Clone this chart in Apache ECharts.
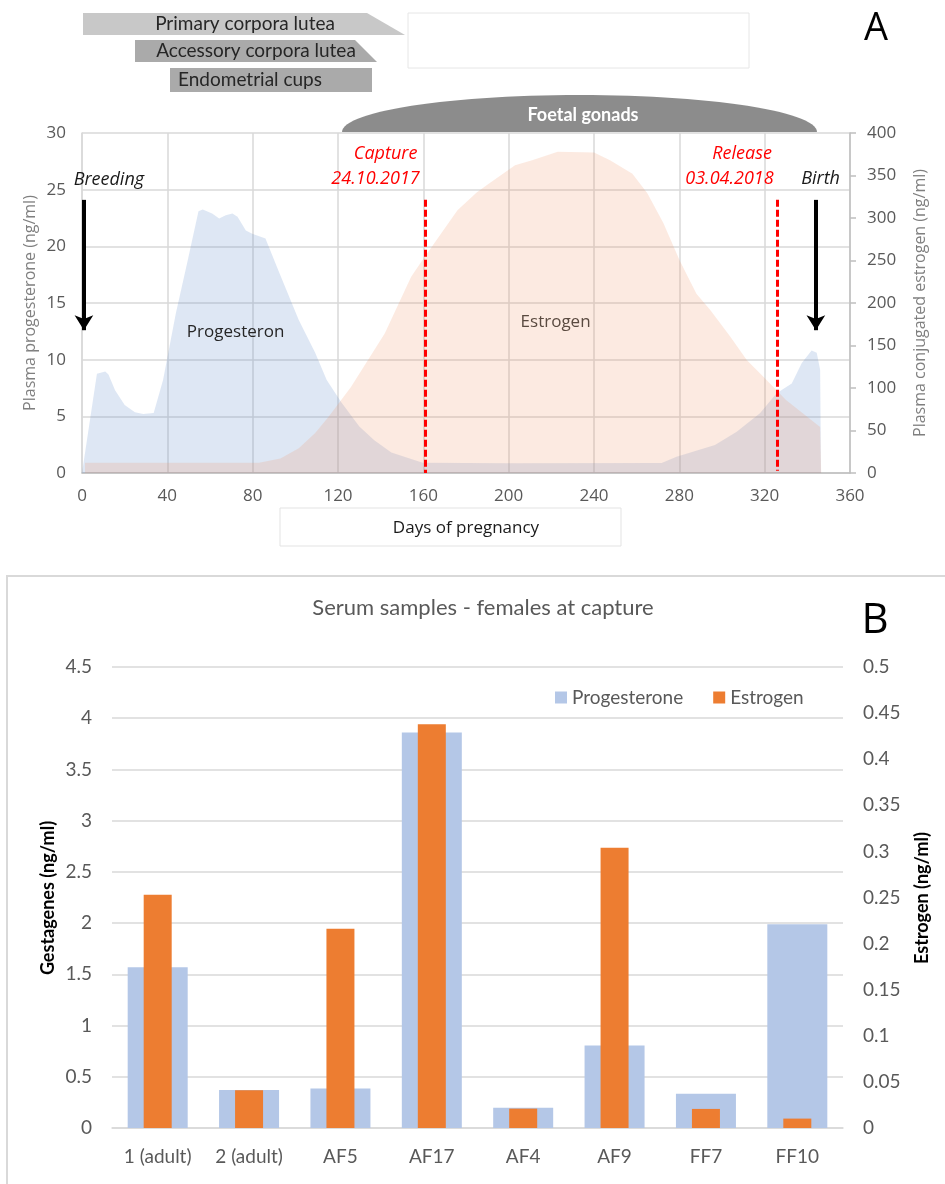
<!DOCTYPE html>
<html>
<head>
<meta charset="utf-8">
<script src="https://cdn.jsdelivr.net/npm/echarts@6/dist/echarts.min.js"></script>
<style>
html,body{margin:0;padding:0;background:#fff;}
#chart{width:945px;height:1184px;}
</style>
</head>
<body>
<div id="chart"></div>
<script>
// ---------- Panel A data ----------
const progDays = [0,7,10.9,12.4,15.5,20,24.8,28.7,33.6,38,44,49.6,54.6,56.6,61,64.3,67.4,70.5,72.9,76.8,79.8,86,92,101.6,109.3,114.7,121.7,130,137,145,159.7,200,271.7,278.7,296.7,306.9,317.8,325.6,332.7,337.4,342,344.4,346,346.4];
const progValues = [0,8.75,8.95,8.7,7.3,6.0,5.35,5.2,5.3,8.2,14.1,18.8,23.1,23.25,22.9,22.45,22.75,22.9,22.6,21.4,21.1,20.7,17.9,13.5,10.6,8.2,6.2,4.1,2.9,1.8,0.9,0.85,0.88,1.44,2.47,3.65,5.27,7.03,7.9,9.7,10.8,10.6,9.1,0];
const estDays = [1.4,83,93,101.6,109.3,115.5,126,141.9,154.3,159.7,176,185,190,203,211,223,240,247.5,258,265,272.5,280,288,294.4,304,311.6,321,330,338,346,346.5];
const estValues = [12,12,17,29,47,66,101,164,231,251,309,330,339,362,368,378,377,368,352,329,294,251,211,192,160,133,109,86,70,54,0];
const captureDay = 160.8, releaseDay = 326.1;
const breedingDay = 0.9, birthDay = 344;
const dayTicks = {min:0, max:360, interval:40};
const progTicks = {min:0, max:30, interval:5};
const estTicks = {min:0, max:400, interval:50};

// ---------- Panel B data ----------
const samples = ['1 (adult)','2 (adult)','AF5','AF17','AF4','AF9','FF7','FF10'];
const progB = [1.57,0.37,0.385,3.86,0.197,0.806,0.335,1.99];
const estB = [0.253,0.041,0.216,0.438,0.021,0.304,0.0207,0.0102];
const gestTicks = {min:0, max:4.5, interval:0.5};
const estBTicks = {min:0, max:0.5, interval:0.05};

const FA = "'Open Sans', sans-serif";
const FB = "Lato, sans-serif";

const chart = echarts.init(document.getElementById('chart'), null, {renderer:'canvas'});

const pairs = (xs, ys) => xs.map((x,i)=>[x, ys[i]]);

function txtPoint(x, y, text, style){
  return {coord:[x,y], value:0, label:Object.assign({show:true, formatter:text, position:'inside'}, style)};
}

// dome outline (decoration)
const domePts = [];
for (let i = 0; i <= 60; i++) {
  const t = Math.PI * i / 60;
  domePts.push([579.5 - 237.5 * Math.cos(t), 132 - 37 * Math.sin(t)]);
}

const redStyle = {color:'#ff0000', fontStyle:'italic', fontSize:18, fontFamily:FA};
const blackItalic = {color:'#1a1a1a', fontStyle:'italic', fontSize:18, fontFamily:FA};

const option = {
  animation:false,
  backgroundColor:'#fff',
  grid:[
    {left:82, top:133, width:768, height:340},
    {left:112, top:667, width:731, height:461}
  ],
  legend:{
    data:['Progesterone','Estrogen'],
    left:550, top:683,
    icon:'rect', itemWidth:12, itemHeight:12, itemGap:30,
    textStyle:{fontFamily:FB, fontSize:19, color:'#595959'}
  },
  xAxis:[
    {gridIndex:0, type:'value', min:dayTicks.min, max:dayTicks.max, interval:dayTicks.interval,
     axisLine:{show:true, lineStyle:{color:'#bfbfbf', width:1.5}}, axisTick:{show:false},
     axisLabel:{color:'#595959', fontSize:17, fontFamily:FA, margin:15},
     splitLine:{show:true, lineStyle:{color:'#d9d9d9', width:1.5}}},
    {gridIndex:1, type:'category', data:samples,
     axisLine:{show:true, lineStyle:{color:'#d9d9d9', width:1.5}}, axisTick:{show:false},
     axisLabel:{color:'#595959', fontSize:19, fontFamily:FB, margin:19, interval:0, hideOverlap:false}},
    {gridIndex:1, type:'category', data:samples, show:false}
  ],
  yAxis:[
    {gridIndex:0, type:'value', min:progTicks.min, max:progTicks.max, interval:progTicks.interval,
     name:'Plasma progesterone (ng/ml)', nameLocation:'middle', nameGap:44, nameRotate:90, nameMoveOverlap:false,
     nameTextStyle:{color:'#7f7f7f', fontSize:16, fontFamily:FA},
     axisLine:{show:true, lineStyle:{color:'#d9d9d9', width:1.5}}, axisTick:{show:false},
     axisLabel:{color:'#595959', fontSize:17, fontFamily:FA, margin:16},
     splitLine:{show:true, lineStyle:{color:'#d9d9d9', width:1.5}}},
    {gridIndex:0, type:'value', position:'right', min:estTicks.min, max:estTicks.max, interval:estTicks.interval,
     name:'Plasma conjugated estrogen (ng/ml)', nameLocation:'middle', nameGap:62, nameRotate:90, nameMoveOverlap:false,
     nameTextStyle:{color:'#7f7f7f', fontSize:16, fontFamily:FA},
     axisLine:{show:true, lineStyle:{color:'#bfbfbf', width:1.5}},
     axisTick:{show:true, inside:false, length:6, lineStyle:{color:'#bfbfbf', width:1.5}},
     axisLabel:{color:'#595959', fontSize:17, fontFamily:FA, margin:17},
     splitLine:{show:false}},
    {gridIndex:1, type:'value', min:gestTicks.min, max:gestTicks.max, interval:gestTicks.interval,
     axisLine:{show:false}, axisTick:{show:false},
     axisLabel:{color:'#595959', fontSize:19, fontFamily:FB, margin:20},
     splitLine:{show:true, lineStyle:{color:'#d9d9d9', width:1.5}}},
    {gridIndex:1, type:'value', position:'right', min:estBTicks.min, max:estBTicks.max, interval:estBTicks.interval,
     axisLine:{show:false}, axisTick:{show:false},
     axisLabel:{color:'#595959', fontSize:19, fontFamily:FB, margin:20},
     splitLine:{show:false}}
  ],
  series:[
    {name:'Progesteron A', type:'line', xAxisIndex:0, yAxisIndex:0,
     data:pairs(progDays, progValues), showSymbol:false, smooth:false,
     lineStyle:{width:0}, areaStyle:{color:'rgba(100,140,205,0.3)'},
     markLine:{silent:true, animation:false, label:{show:false},
       data:[
         [{coord:[captureDay,24.1], symbol:'none', lineStyle:{color:'#ff0000', width:3, type:[7,3]}},
          {coord:[captureDay,0], symbol:'none', lineStyle:{color:'#ff0000', width:3, type:[7,3]}}],
         [{coord:[releaseDay,24.1], symbol:'none', lineStyle:{color:'#ff0000', width:3, type:[7,3]}},
          {coord:[releaseDay,0.2], symbol:'none', lineStyle:{color:'#ff0000', width:3, type:[7,3]}}],
         [{coord:[breedingDay,24.1], symbol:'none', lineStyle:{color:'#000', width:4, type:'solid'}},
          {coord:[breedingDay,12.6], symbol:'arrow', symbolSize:[14,15], lineStyle:{color:'#000', width:4, type:'solid'}}],
         [{coord:[birthDay,24.1], symbol:'none', lineStyle:{color:'#000', width:4, type:'solid'}},
          {coord:[birthDay,12.6], symbol:'arrow', symbolSize:[14,15], lineStyle:{color:'#000', width:4, type:'solid'}}]
       ]},
     markPoint:{silent:true, symbol:'circle', symbolSize:1, itemStyle:{color:'transparent'},
       data:[
         txtPoint(12.6, 25.85, 'Breeding', blackItalic),
         txtPoint(346.2, 25.95, 'Birth', blackItalic),
         txtPoint(142.3, 28.2, 'Capture', redStyle),
         txtPoint(137.6, 25.95, '24.10.2017', redStyle),
         txtPoint(309.4, 28.2, 'Release', redStyle),
         txtPoint(303.5, 25.95, '03.04.2018', redStyle),
         txtPoint(72, 12.45, 'Progesteron', {color:'#262626', fontSize:17, fontFamily:FA}),
         txtPoint(222, 13.3, 'Estrogen', {color:'#5a4a40', fontSize:17, fontFamily:FA})
       ]}
    },
    {name:'Estrogen A', type:'line', xAxisIndex:0, yAxisIndex:1,
     data:pairs(estDays, estValues), showSymbol:false, smooth:false,
     lineStyle:{width:0}, areaStyle:{color:'rgba(240,150,100,0.28)'}},
    {name:'Progesterone', type:'bar', xAxisIndex:1, yAxisIndex:2, data:progB,
     barWidth:60, itemStyle:{color:'#b4c7e7'}},
    {name:'Estrogen', type:'bar', xAxisIndex:2, yAxisIndex:3, data:estB,
     barWidth:28, itemStyle:{color:'#ed7d31'}}
  ],
  graphic:[
    {type:'polygon', shape:{points:[[83,13],[367,13],[405,35],[83,35]]}, style:{fill:'#c8c8c8'}},
    {type:'text', x:245, y:24, style:{text:'Primary corpora lutea', font:'19px Lato, sans-serif', fill:'#262626', textAlign:'center', textVerticalAlign:'middle'}},
    {type:'polygon', shape:{points:[[135,40],[355,40],[377,62],[135,62]]}, style:{fill:'#aaaaaa'}},
    {type:'text', x:256, y:51, style:{text:'Accessory corpora lutea', font:'19px Lato, sans-serif', fill:'#262626', textAlign:'center', textVerticalAlign:'middle'}},
    {type:'rect', shape:{x:170, y:68, width:202, height:24}, style:{fill:'#aaaaaa'}},
    {type:'text', x:250, y:80, style:{text:'Endometrial cups', font:'19px Lato, sans-serif', fill:'#262626', textAlign:'center', textVerticalAlign:'middle'}},
    {type:'rect', shape:{x:408, y:13, width:341, height:55}, style:{fill:'none', stroke:'#e6e6e6', lineWidth:1}},
    {type:'polygon', shape:{points:domePts}, style:{fill:'#8c8c8c'}},
    {type:'text', x:583, y:115, style:{text:'Foetal gonads', font:'bold 18px Lato, sans-serif', fill:'#ffffff', textAlign:'center', textVerticalAlign:'middle'}},
    {type:'text', x:876, y:29, style:{text:'A', font:"38px 'Open Sans', sans-serif", fill:'#000', textAlign:'center', textVerticalAlign:'middle'}},
    {type:'rect', shape:{x:280, y:508, width:341, height:38}, style:{fill:'none', stroke:'#e3e3e3', lineWidth:1}},
    {type:'text', x:466, y:528, style:{text:'Days of pregnancy', font:"17px 'Open Sans', sans-serif", fill:'#1a1a1a', textAlign:'center', textVerticalAlign:'middle'}},
    {type:'rect', shape:{x:7, y:576, width:960, height:640}, style:{fill:'none', stroke:'#d9d9d9', lineWidth:2}},
    {type:'text', x:483, y:608, style:{text:'Serum samples - females at capture', font:'22px Lato, sans-serif', fill:'#595959', textAlign:'center', textVerticalAlign:'middle'}},
    {type:'text', x:875, y:621, style:{text:'B', font:"42px 'Open Sans', sans-serif", fill:'#000', textAlign:'center', textVerticalAlign:'middle'}},
    {type:'text', x:48, y:898, rotation:Math.PI/2, style:{text:'Gestagenes (ng/ml)', font:'bold 18px Lato, sans-serif', fill:'#000', textAlign:'center', textVerticalAlign:'middle'}},
    {type:'text', x:922, y:898, rotation:Math.PI/2, style:{text:'Estrogen (ng/ml)', font:'bold 18px Lato, sans-serif', fill:'#000', textAlign:'center', textVerticalAlign:'middle'}}
  ]
};
chart.setOption(option);
</script>
</body>
</html>
